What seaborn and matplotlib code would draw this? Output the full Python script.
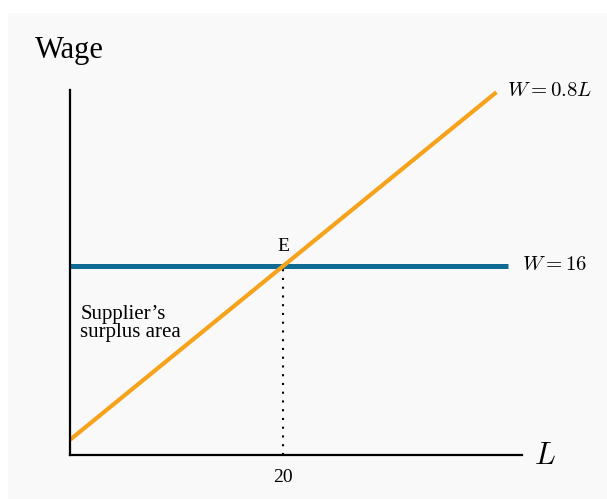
import numpy as np
import pandas as pd
import matplotlib.pyplot as plt
import seaborn as sns
from matplotlib.patches import Rectangle

# Datos del grafico
oferta_L = [0, 40]
oferta_W = [0, 32]          # W = 0.8L
salario_L = [0, 41.1]
salario_W = [16, 16]        # W = 16
L_equilibrio = 20
W_equilibrio = 16
ticks_x = [20]
etiquetas_x = ["20"]

sns.set_style("white")
plt.rcParams["font.family"] = ["Liberation Serif", "DejaVu Serif"]
plt.rcParams["mathtext.fontset"] = "cm"
plt.rcParams["text.color"] = "black"
plt.rcParams["xtick.color"] = "black"

fig = plt.figure(figsize=(6.07, 4.99), dpi=100)
fig.patches.append(Rectangle((8 / 607, 0), 1, (499 - 13) / 499, transform=fig.transFigure,
                             facecolor="#f9f9f9", edgecolor="none", zorder=-10))
ax = fig.add_axes([70 / 607, 1 - 455 / 499, (522 - 70) / 607, (455 - 90) / 499])
ax.set_facecolor("none")

df_oferta = pd.DataFrame({"L": oferta_L, "W": oferta_W})
df_salario = pd.DataFrame({"L": salario_L, "W": salario_W})

sns.lineplot(data=df_salario, x="L", y="W", ax=ax, color="#0f6b94", linewidth=3.6,
             solid_capstyle="butt")
sns.lineplot(data=df_oferta, x="L", y="W", ax=ax, color="#f7a21b", linewidth=3,
             solid_capstyle="butt")
ax.plot([L_equilibrio, L_equilibrio], [-1.4, W_equilibrio], color="black",
        linestyle=(0, (1, 3.2)), linewidth=1.5, zorder=1)

ax.set_xlim(0, 42.4)
ax.set_ylim(-1.4, 32.2)
for s in ["top", "right"]:
    ax.spines[s].set_visible(False)
for s in ["left", "bottom"]:
    ax.spines[s].set_linewidth(1.6)
    ax.spines[s].set_color("black")
ax.set_xticks(ticks_x)
ax.set_xticklabels(etiquetas_x, fontsize=14)
ax.set_yticks([])
ax.tick_params(axis="x", length=0, pad=10)
ax.set_xlabel("")
ax.set_ylabel("")

ax.text(41.0, 32.1, r"$W = 0.8L$", fontsize=15, ha="left", va="center")
ax.text(42.4, 16, r"$W = 16$", fontsize=15, ha="left", va="center")
ax.text(L_equilibrio, 17.0, "E", fontsize=14, ha="center", va="bottom")
ax.text(0.95, 10.7, "Supplier\u2019s\nsurplus area", fontsize=15, ha="left", va="center",
        linespacing=0.95)
ax.text(1.051, -0.005, r"$L$", fontsize=22, transform=ax.transAxes, ha="center", va="center")
fig.text(35 / 607, 1 - 58 / 499, "Wage", fontsize=22, ha="left", va="baseline")

plt.savefig("out.png", dpi=100)
